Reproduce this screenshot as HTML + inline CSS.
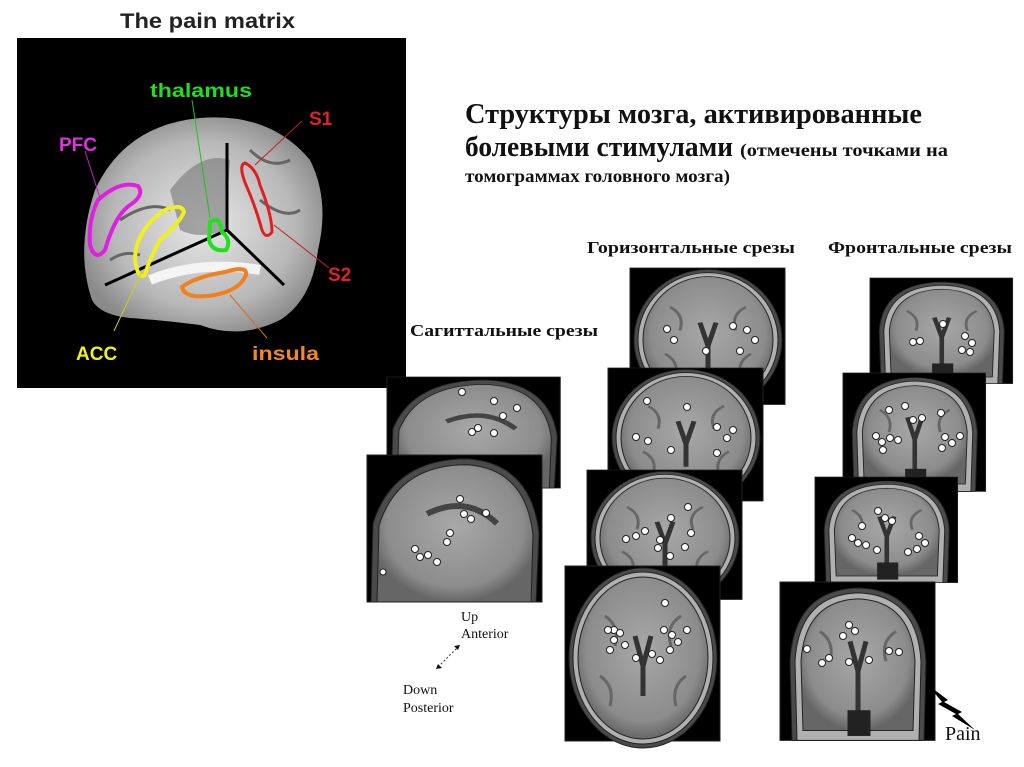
<!DOCTYPE html>
<html><head><meta charset="utf-8"><style>
html,body{margin:0;padding:0;background:#fff;width:1024px;height:767px;overflow:hidden}
svg{display:block}
</style></head><body>
<svg width="1024" height="767" viewBox="0 0 1024 767" xmlns="http://www.w3.org/2000/svg">
<defs>
<radialGradient id="bg" cx="50%" cy="50%" r="55%">
<stop offset="0" stop-color="#e8e8e8"/><stop offset="0.7" stop-color="#b8b8b8"/><stop offset="1" stop-color="#8a8a8a"/>
</radialGradient>
<radialGradient id="sg" cx="50%" cy="45%" r="55%">
<stop offset="0" stop-color="#a8a8a8"/><stop offset="0.8" stop-color="#8c8c8c"/><stop offset="1" stop-color="#666"/>
</radialGradient>
<g id="hz">
<rect x="0" y="0" width="155" height="175" fill="#000"/>
<ellipse cx="78" cy="92" rx="74" ry="90" fill="#4a4a4a"/>
<ellipse cx="78" cy="92" rx="70" ry="86" fill="#b0b0b0"/>
<ellipse cx="78" cy="92" rx="65" ry="81" fill="url(#sg)"/>
<path d="M40 50 Q55 60 50 80 M116 50 Q100 60 106 80 M35 110 Q50 120 45 140 M121 110 Q106 120 111 140" stroke="#666" stroke-width="3" fill="none"/>
<path d="M70 70 L78 100 L86 70 M78 100 L78 130" stroke="#333" stroke-width="5" fill="none"/>
</g>
<g id="fr">
<rect x="0" y="0" width="155" height="160" fill="#000"/>
<path d="M12 160 L10 80 Q14 8 78 6 Q142 8 146 80 L144 160 Z" fill="#4a4a4a"/>
<path d="M17 160 L15 80 Q19 13 78 11 Q137 13 141 80 L139 160 Z" fill="#b0b0b0"/>
<path d="M23 150 L21 80 Q25 19 78 17 Q131 19 135 80 L133 150 Z" fill="url(#sg)"/>
<path d="M40 50 Q55 60 50 80 M116 50 Q100 60 106 80" stroke="#666" stroke-width="3" fill="none"/>
<path d="M70 60 L78 90 L86 60 M78 90 L78 130" stroke="#333" stroke-width="5" fill="none"/>
<rect x="68" y="130" width="22" height="25" fill="#222"/>
</g>
<g id="sa">
<rect x="0" y="0" width="175" height="150" fill="#000"/>
<path d="M4 150 L6 70 Q26 4 100 4 Q164 8 172 80 L169 150 Z" fill="#4a4a4a"/>
<path d="M10 150 L12 72 Q31 10 100 10 Q159 14 166 82 L164 150 Z" fill="url(#sg)"/>
<path d="M60 60 Q100 40 130 70" stroke="#444" stroke-width="6" fill="none"/>
</g>
</defs>

<!-- Pain matrix -->
<text x="120" y="28" font-family="Liberation Sans, sans-serif" font-weight="bold" font-size="21" fill="#222" textLength="175" lengthAdjust="spacingAndGlyphs">The pain matrix</text>
<rect x="17" y="38" width="389" height="350" fill="#000"/>
<path d="M92 300 Q75 250 95 190 Q125 125 200 118 Q270 112 310 160 Q330 200 318 250 Q312 300 280 320 Q240 340 200 325 Q160 320 130 318 Q100 315 92 300 Z" fill="url(#bg)"/>
<path d="M170 190 Q200 150 230 160 L225 230 Q200 240 180 230 Z" fill="#777" opacity="0.6"/>
<path d="M150 280 Q200 260 260 270" stroke="#f4f4f4" stroke-width="10" fill="none"/>
<path d="M120 220 Q150 200 170 210 M250 150 Q270 170 290 160 M260 200 Q285 220 300 210 M110 260 Q125 250 140 255" stroke="#666" stroke-width="3" fill="none"/>
<g stroke="#000" stroke-width="3">
<line x1="227" y1="230" x2="105" y2="285"/><line x1="227" y1="230" x2="227" y2="143"/><line x1="227" y1="230" x2="284" y2="285"/>
</g>
<path d="M98 200 Q120 180 138 186 Q145 195 130 205 Q115 215 105 250 Q95 262 90 245 Q88 220 98 200 Z" fill="none" stroke="#e020e0" stroke-width="4"/>
<path d="M135 260 Q135 230 165 210 Q182 203 184 212 Q180 222 160 240 Q148 262 145 275 Q138 280 135 260 Z" fill="none" stroke="#f0f020" stroke-width="4"/>
<path d="M210 222 Q220 215 222 232 Q232 240 226 250 Q212 252 209 240 Z" fill="none" stroke="#20e020" stroke-width="4"/>
<path d="M245 163 Q256 168 260 185 Q272 215 272 232 Q266 240 262 230 Q255 205 246 185 Q238 165 245 163 Z" fill="none" stroke="#e02020" stroke-width="3"/>
<path d="M182 287 Q195 277 225 272 Q248 265 246 275 Q240 290 215 295 Q185 300 182 287 Z" fill="none" stroke="#f08020" stroke-width="4"/>
<g stroke-width="1">
<line x1="192" y1="100" x2="210" y2="218" stroke="#20c020"/>
<line x1="85" y1="151" x2="100" y2="198" stroke="#c020c0"/>
<line x1="302" y1="121" x2="255" y2="165" stroke="#c02020"/>
<line x1="329" y1="268" x2="274" y2="225" stroke="#c02020"/>
<line x1="114" y1="331" x2="142" y2="271" stroke="#d0d020"/>
<line x1="267" y1="338" x2="230" y2="295" stroke="#d07020"/>
</g>
<g font-family="Liberation Sans, sans-serif" font-weight="bold" font-size="19" lengthAdjust="spacingAndGlyphs">
<text x="150" y="97" fill="#22dd22" textLength="102" lengthAdjust="spacingAndGlyphs">thalamus</text>
<text x="309" y="125" fill="#e02222">S1</text>
<text x="59" y="151" fill="#e030e0">PFC</text>
<text x="328" y="281" fill="#e02222">S2</text>
<text x="76" y="360" fill="#f0f020">ACC</text>
<text x="252" y="360" fill="#f08a20" textLength="67" lengthAdjust="spacingAndGlyphs">insula</text>
</g>

<!-- Heading -->
<g font-family="Liberation Serif, serif" font-weight="bold" fill="#111">
<text x="465" y="123" font-size="28" textLength="457" lengthAdjust="spacingAndGlyphs">Структуры мозга, активированные</text>
<text x="465" y="156" font-size="28" textLength="268" lengthAdjust="spacingAndGlyphs">болевыми стимулами</text>
<text x="740" y="156" font-size="18" textLength="208" lengthAdjust="spacingAndGlyphs">(отмечены точками на</text>
<text x="465" y="182" font-size="18" textLength="265" lengthAdjust="spacingAndGlyphs">томограммах головного мозга)</text>
<text x="587" y="253" font-size="17" textLength="208" lengthAdjust="spacingAndGlyphs">Горизонтальные срезы</text>
<text x="828" y="253" font-size="17" textLength="184" lengthAdjust="spacingAndGlyphs">Фронтальные срезы</text>
<text x="410" y="336" font-size="17" textLength="188" lengthAdjust="spacingAndGlyphs">Сагиттальные срезы</text>
</g>

<g fill="#fff" stroke="#222" stroke-width="1">
<use href="#hz" transform="translate(630,268) scale(1,0.78)"/>
<circle cx="667" cy="329" r="3.5"/><circle cx="674" cy="340" r="3.5"/><circle cx="706" cy="351" r="3.5"/><circle cx="733" cy="326" r="3.5"/><circle cx="747" cy="330" r="3.5"/><circle cx="755" cy="340" r="3.5"/><circle cx="740" cy="351" r="3.5"/>
<use href="#hz" transform="translate(608,368) scale(1,0.76)"/>
<circle cx="647" cy="401" r="3.5"/><circle cx="687" cy="407" r="3.5"/><circle cx="636" cy="437" r="3.5"/><circle cx="648" cy="441" r="3.5"/><circle cx="671" cy="450" r="3.5"/><circle cx="717" cy="427" r="3.5"/><circle cx="727" cy="438" r="3.5"/><circle cx="733" cy="430" r="3.5"/><circle cx="717" cy="453" r="3.5"/>
<use href="#hz" transform="translate(587,470) scale(1,0.74)"/>
<circle cx="688" cy="507" r="3.5"/><circle cx="671" cy="518" r="3.5"/><circle cx="626" cy="539" r="3.5"/><circle cx="636" cy="536" r="3.5"/><circle cx="645" cy="531" r="3.5"/><circle cx="658" cy="548" r="3.5"/><circle cx="670" cy="556" r="3.5"/><circle cx="685" cy="547" r="3.5"/><circle cx="691" cy="533" r="3.5"/><circle cx="660" cy="540" r="3.5"/>
<use href="#hz" transform="translate(565,566) scale(1,1)"/>
<circle cx="614" cy="630" r="3.5"/><circle cx="665" cy="603" r="3.5"/><circle cx="608" cy="630" r="3.5"/><circle cx="614" cy="640" r="3.5"/><circle cx="620" cy="633" r="3.5"/><circle cx="625" cy="645" r="3.5"/><circle cx="610" cy="650" r="3.5"/><circle cx="636" cy="658" r="3.5"/><circle cx="652" cy="654" r="3.5"/><circle cx="660" cy="660" r="3.5"/><circle cx="664" cy="630" r="3.5"/><circle cx="672" cy="635" r="3.5"/><circle cx="678" cy="642" r="3.5"/><circle cx="670" cy="650" r="3.5"/><circle cx="687" cy="630" r="3.5"/>
<use href="#fr" transform="translate(870,278) scale(0.92,0.66)"/>
<circle cx="943" cy="324" r="3.5"/><circle cx="913" cy="342" r="3.5"/><circle cx="920" cy="341" r="3.5"/><circle cx="965" cy="336" r="3.5"/><circle cx="972" cy="343" r="3.5"/><circle cx="962" cy="350" r="3.5"/><circle cx="970" cy="352" r="3.5"/>
<use href="#fr" transform="translate(843,373) scale(0.92,0.74)"/>
<circle cx="889" cy="410" r="3.5"/><circle cx="905" cy="406" r="3.5"/><circle cx="913" cy="420" r="3.5"/><circle cx="922" cy="418" r="3.5"/><circle cx="941" cy="413" r="3.5"/><circle cx="876" cy="436" r="3.5"/><circle cx="882" cy="442" r="3.5"/><circle cx="890" cy="438" r="3.5"/><circle cx="898" cy="440" r="3.5"/><circle cx="883" cy="450" r="3.5"/><circle cx="945" cy="437" r="3.5"/><circle cx="952" cy="443" r="3.5"/><circle cx="960" cy="436" r="3.5"/><circle cx="942" cy="448" r="3.5"/>
<use href="#fr" transform="translate(815,477) scale(0.92,0.66)"/>
<circle cx="878" cy="511" r="3.5"/><circle cx="885" cy="518" r="3.5"/><circle cx="892" cy="521" r="3.5"/><circle cx="862" cy="526" r="3.5"/><circle cx="852" cy="538" r="3.5"/><circle cx="858" cy="543" r="3.5"/><circle cx="866" cy="545" r="3.5"/><circle cx="877" cy="550" r="3.5"/><circle cx="919" cy="536" r="3.5"/><circle cx="925" cy="543" r="3.5"/><circle cx="917" cy="549" r="3.5"/><circle cx="908" cy="552" r="3.5"/>
<use href="#fr" transform="translate(780,582) scale(1,0.99)"/>
<circle cx="849" cy="625" r="3.5"/><circle cx="843" cy="636" r="3.5"/><circle cx="855" cy="631" r="3.5"/><circle cx="807" cy="649" r="3.5"/><circle cx="829" cy="658" r="3.5"/><circle cx="822" cy="663" r="3.5"/><circle cx="849" cy="662" r="3.5"/><circle cx="869" cy="660" r="3.5"/><circle cx="889" cy="651" r="3.5"/><circle cx="899" cy="652" r="3.5"/>
<use href="#sa" transform="translate(387,377) scale(0.99,0.74)"/>
<circle cx="462" cy="392" r="3.5"/><circle cx="494" cy="401" r="3.5"/><circle cx="517" cy="408" r="3.5"/><circle cx="503" cy="416" r="3.5"/><circle cx="472" cy="432" r="3.5"/><circle cx="478" cy="428" r="3.5"/><circle cx="494" cy="433" r="3.5"/>
<use href="#sa" transform="translate(367,455) scale(1,0.98)"/>
<circle cx="460" cy="499" r="3.5"/><circle cx="464" cy="514" r="3.5"/><circle cx="471" cy="519" r="3.5"/><circle cx="486" cy="513" r="3.5"/><circle cx="450" cy="533" r="3.5"/><circle cx="447" cy="542" r="3.5"/><circle cx="415" cy="549" r="3.5"/><circle cx="420" cy="557" r="3.5"/><circle cx="428" cy="555" r="3.5"/><circle cx="437" cy="562" r="3.5"/><circle cx="383" cy="572" r="3"/>
</g>

<g font-family="Liberation Serif, serif" font-size="14" fill="#111">
<text x="461" y="621">Up</text>
<text x="461" y="638">Anterior</text>
<text x="403" y="694">Down</text>
<text x="403" y="712">Posterior</text>
<text x="945" y="740" font-size="20">Pain</text>
</g>
<line x1="438" y1="667" x2="460" y2="645" stroke="#333" stroke-dasharray="2,2"/>
<path d="M460 645 l-6 1 l4 4 z M436 669 l6 -1 l-4 -4 z" fill="#111"/>
<path d="M928 685 L948 700 L944 702 L962 712 L958 714 L975 730 L952 716 L956 714 L938 704 L942 702 Z" fill="#000"/>
</svg>
</body></html>
